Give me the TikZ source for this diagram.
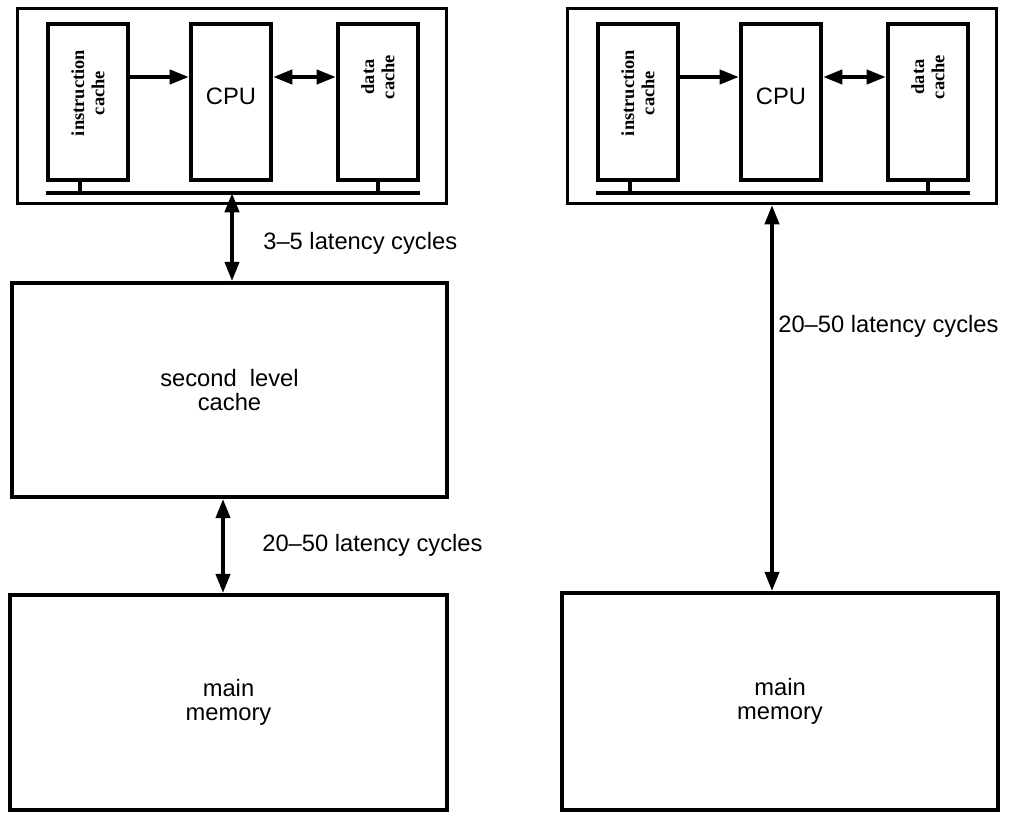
\documentclass[tikz,border=0pt]{standalone}
\usepackage{fontspec}
\setmainfont{Liberation Sans}
\newfontfamily\tagfont{Liberation Serif}
\usetikzlibrary{arrows.meta}
\tikzset{
  every picture/.style={font=\fontsize{13.5}{14}\selectfont},
  chipbox/.style={draw, line width=1.8pt, minimum width=8.58cm, minimum height=3.9cm, inner sep=0pt},
  cell/.style={draw, line width=2.4pt, minimum width=1.6cm, minimum height=3.12cm, inner sep=0pt},
  unit/.style={draw, line width=2.2pt, align=center, inner sep=0pt},
  tag/.style={font=\tagfont\bfseries\fontsize{10.5}{11.5}\selectfont, align=center, inner sep=0pt},
  lat/.style={inner sep=0pt, anchor=west},
  bus/.style={line width=2.8pt},
  stub/.style={line width=2pt},
  link/.style={-{Triangle[length=11pt, width=8pt]}, line width=2.3pt},
  duplex/.style={{Triangle[length=11pt, width=8pt]}-{Triangle[length=11pt, width=8pt]}, line width=2.3pt},
}
\begin{document}
\begin{tikzpicture}[x=0.02cm, y=-0.02cm]
  \path[use as bounding box, fill=white] (0,0) rectangle (1014,814);
  % the two processor chips
  \foreach \s/\dx in {l/0, r/550}{
    \begin{scope}[xshift=\dx*0.02cm]
      \node[chipbox] (chip-\s) at (232,106) {};
      \node[cell] (ic-\s) at (88,102) {};
      \node[cell] (cpu-\s) at (231,102) {};
      \node[cell] (dc-\s) at (378,102) {};
      \node[tag, rotate=90] (ic-t-\s) at ([yshift=0.18cm]ic-\s) {instruction\\cache};
      \node (cpu-t-\s) at ([yshift=0.12cm]cpu-\s) {CPU};
      \node[tag, rotate=90] (dc-t-\s) at ([yshift=0.5cm]dc-\s) {data\\cache};
      \coordinate (bus-\s) at (232,193);
      \draw[bus] (ic-\s.west |- bus-\s) -- (dc-\s.east |- bus-\s);
      \draw[stub] ([xshift=-0.16cm]ic-\s.south) -- ([xshift=-0.16cm]ic-\s.south |- bus-\s);
      \draw[stub] (dc-\s.south) -- (dc-\s.south |- bus-\s);
      \draw[link] ([yshift=0.5cm]ic-\s.east) -- ([yshift=0.5cm]cpu-\s.west);
      \draw[duplex] ([yshift=0.5cm]cpu-\s.east) -- ([yshift=0.5cm]dc-\s.west);
    \end{scope}
  }
  % left: with second level cache
  \node[unit, minimum width=8.7cm, minimum height=4.28cm] (l2) at (229.5,390) {second~~level\\cache};
  \node[unit, minimum width=8.74cm, minimum height=4.3cm] (mm-l) at (228.5,702.5) {main\\memory};
  \draw[duplex] (bus-l) -- (bus-l |- l2.north);
  \draw[duplex] ([xshift=-0.13cm]l2.south) -- ([xshift=-0.13cm]l2.south |- mm-l.north);
  \node[lat] (lat-a) at (263,243) {3--5 latency cycles};
  \node[lat] (lat-b) at (262,545) {20--50 latency cycles};
  % right: straight to main memory
  \node[unit, minimum width=8.72cm, minimum height=4.34cm] (mm-r) at (780,701.5) {main\\memory};
  \draw[duplex] ([xshift=-0.2cm]chip-r.south) -- ([xshift=-0.2cm]chip-r.south |- mm-r.north);
  \node[lat] (lat-c) at (778,326) {20--50 latency cycles};
\end{tikzpicture}
\end{document}
